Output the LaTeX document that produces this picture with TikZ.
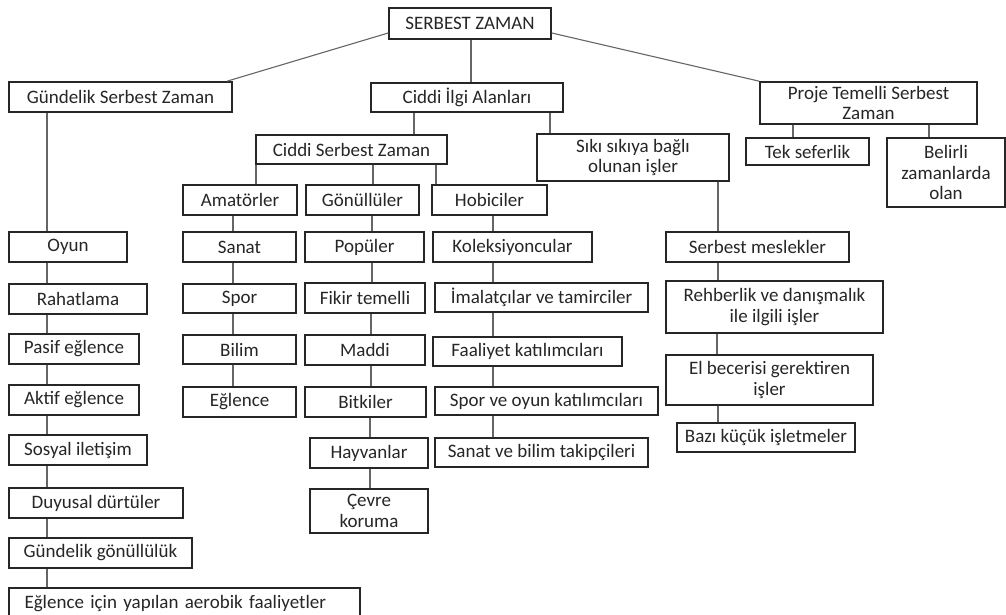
\documentclass[tikz,border=0pt]{standalone}
\usepackage{fontspec}
\setmainfont{Carlito}
\newcommand\bx[7][]{\node[bx,minimum width={(#5-#3)*1pt},minimum height={(#6-#4)*1pt},#1] (#2) at ({(#3+#5)/2},{(#4+#6)/2}) {#7};}
\newcommand\vl[3]{\draw[cn] (#1.south -| #3,0) -- (#2.north -| #3,0);}
\begin{document}
\begin{tikzpicture}[x=1pt,y=-1pt,
  bx/.style={draw=black!85,line width=1.6pt,inner sep=0pt,align=center,text=black!85,
    font=\fontsize{19}{20.5}\selectfont},
  cn/.style={draw=black!60,line width=1.1pt}]
\fill[white] (0,0) rectangle (1006,615);
\useasboundingbox (0,0) rectangle (1006,615);
\clip (0,0) rectangle (1006,615);
% top
\bx{sz}{389}{8}{551}{39}{SERBEST ZAMAN}
\bx{gun}{9}{82}{232}{112}{Gündelik Serbest Zaman}
\bx{cia}{371}{83}{563}{112}{Ciddi İlgi Alanları}
\bx{pro}{760}{82}{977}{124}{Proje Temelli Serbest\\Zaman}
\bx{csz}{256}{135}{447}{164}{Ciddi Serbest Zaman}
\bx{siki}{537}{134}{729}{181}{Sıkı sıkıya bağlı\\olunan işler}
\bx{tek}{746}{138}{869}{165}{Tek seferlik}
\bx{bel}{887}{138}{1005}{207}{Belirli\\zamanlarda\\olan}
\bx{ama}{183}{185}{297}{215}{Amatörler}
\bx{gon}{306}{185}{419}{215}{Gönüllüler}
\bx{hob}{432}{185}{547}{215}{Hobiciler}
% left column
\bx{oyun}{9}{232}{127}{262}{Oyun}
\bx{rah}{9}{284}{147}{314}{Rahatlama}
\bx{pas}{9}{334}{139}{364}{Pasif eğlence}
\bx{akt}{9}{385}{139}{415}{Aktif eğlence}
\bx{sos}{9}{435}{147}{465}{Sosyal iletişim}
\bx{duy}{9}{488}{183}{518}{Duyusal dürtüler}
\bx{gg}{9}{538}{192}{568}{Gündelik gönüllülük}
\bx[text width=320pt,align=left]{aer}{9}{588}{360}{620}{Eğlence için yapılan aerobik faaliyetler}
% amatörler
\bx{san}{183}{232}{296}{262}{Sanat}
\bx{spo}{183}{284}{296}{313}{Spor}
\bx{bil}{183}{335}{296}{364}{Bilim}
\bx{egl}{183}{387}{296}{417}{Eğlence}
% gönüllüler
\bx{pop}{305}{232}{424}{262}{Popüler}
\bx{fik}{305}{283}{425}{313}{Fikir temelli}
\bx{mad}{305}{335}{425}{365}{Maddi}
\bx{bit}{305}{387}{426}{417}{Bitkiler}
\bx{hay}{310}{438}{428}{468}{Hayvanlar}
\bx{cev}{310}{489}{428}{533}{Çevre\\koruma}
% hobiciler
\bx{kol}{433}{232}{592}{262}{Koleksiyoncular}
\bx{ima}{435}{283}{648}{312}{İmalatçılar ve tamirciler}
\bx{faa}{433}{337}{622}{366}{Faaliyet katılımcıları}
\bx{spk}{435}{387}{658}{415}{Spor ve oyun katılımcıları}
\bx{sbt}{435}{438}{648}{467}{Sanat ve bilim takipçileri}
% serbest meslekler
\bx{sm}{666}{232}{849}{262}{Serbest meslekler}
\bx{reh}{666}{281}{883}{333}{Rehberlik ve danışmalık\\ile ilgili işler}
\bx{el}{666}{355}{873}{405}{El becerisi gerektiren\\işler}
\bx{baz}{677}{423}{855}{452}{Bazı küçük işletmeler}
% connectors
\draw[cn] (sz.west |- 0,33) -- (gun.north -| 227,0);
\draw[cn] (sz.east |- 0,33) -- (pro.north west);
\vl{sz}{cia}{471}
\vl{cia}{csz}{414}
\vl{cia}{siki}{550}
\vl{csz}{ama}{256}
\vl{csz}{gon}{373}
\vl{csz}{hob}{436}
\vl{pro}{tek}{793}
\vl{pro}{bel}{929}
\vl{siki}{sm}{718}
\vl{gun}{oyun}{47}
\vl{oyun}{rah}{47}
\vl{rah}{pas}{47}
\vl{pas}{akt}{47}
\vl{akt}{sos}{47}
\vl{sos}{duy}{47}
\vl{duy}{gg}{47}
\vl{gg}{aer}{47}
\vl{ama}{san}{233}
\vl{san}{spo}{233}
\vl{spo}{bil}{233}
\vl{bil}{egl}{233}
\vl{gon}{pop}{372}
\vl{pop}{fik}{372}
\vl{fik}{mad}{371}
\vl{mad}{bit}{371}
\vl{bit}{hay}{370}
\vl{hay}{cev}{370}
\vl{hob}{kol}{493}
\vl{kol}{ima}{493}
\vl{ima}{faa}{493}
\vl{faa}{spk}{493}
\vl{spk}{sbt}{493}
\vl{sm}{reh}{718}
\vl{reh}{el}{717}
\vl{el}{baz}{718}
\end{tikzpicture}
\end{document}
